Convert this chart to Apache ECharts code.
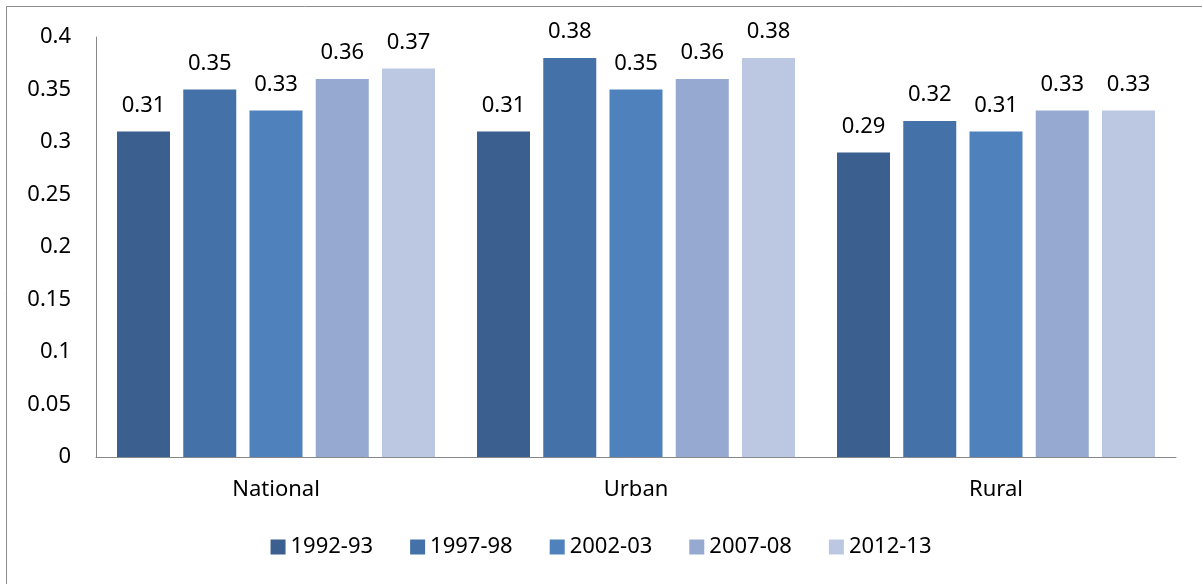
<!DOCTYPE html>
<html>
<head>
<meta charset="utf-8">
<script src="https://cdn.jsdelivr.net/npm/echarts@6/dist/echarts.min.js"></script>
<style>
  html, body { margin: 0; padding: 0; background: #fff; }
  #chart { width: 1202px; height: 584px; }
</style>
</head>
<body>
<div id="chart"></div>
<script>
const categories = ['National', 'Urban', 'Rural'];
const seriesNames = ['1992-93', '1997-98', '2002-03', '2007-08', '2012-13'];
const v1992 = [0.31, 0.31, 0.29];
const v1997 = [0.35, 0.38, 0.32];
const v2002 = [0.33, 0.35, 0.31];
const v2007 = [0.36, 0.36, 0.33];
const v2012 = [0.37, 0.38, 0.33];
const colors = ['#3b5f8e', '#4472a8', '#4f81bd', '#95a9d1', '#bcc8e2'];

const values = [v1992, v1997, v2002, v2007, v2012];
const font = 'Noto Sans';
const fs = 22;

const myChart = echarts.init(document.getElementById('chart'));
const option = {
  animation: false,
  textStyle: { fontFamily: font },
  graphic: [{
    type: 'rect',
    shape: { x: 6.5, y: 6.5, width: 1210, height: 600 },
    style: { fill: 'none', stroke: '#8c8c8c', lineWidth: 1 },
    silent: true
  }],
  grid: { left: 96, right: 26, top: 37, bottom: 127 },
  legend: {
    bottom: 21,
    left: 'center',
    itemWidth: 15,
    itemHeight: 15,
    itemGap: 37,
    icon: 'rect',
    textStyle: { fontSize: fs, color: '#000', fontFamily: font }
  },
  xAxis: {
    type: 'category',
    data: categories,
    axisLine: { lineStyle: { color: '#888', width: 1 } },
    axisTick: { show: false },
    axisLabel: { fontSize: fs, color: '#000', margin: 22, fontFamily: font }
  },
  yAxis: {
    type: 'value',
    min: 0,
    max: 0.4,
    interval: 0.05,
    axisLine: { show: true, lineStyle: { color: '#888', width: 1 } },
    axisTick: { show: false },
    splitLine: { show: false },
    axisLabel: {
      fontSize: fs, color: '#000', margin: 25, fontFamily: font,
      formatter: v => String(+v.toFixed(2))
    }
  },
  series: seriesNames.map((name, i) => ({
    name: name,
    type: 'bar',
    data: values[i],
    barWidth: 53,
    barGap: '25%',
    itemStyle: { color: colors[i] },
    label: {
      show: true,
      position: 'top',
      distance: 15,
      fontSize: fs,
      color: '#000',
      fontFamily: font,
      formatter: p => p.value.toFixed(2)
    }
  }))
};
myChart.setOption(option);
</script>
</body>
</html>
